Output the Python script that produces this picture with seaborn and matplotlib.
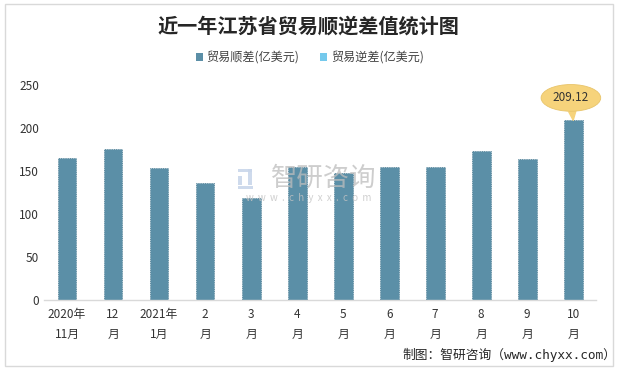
import matplotlib
matplotlib.use('Agg')
import matplotlib.pyplot as plt
import seaborn as sns
import pandas as pd
from matplotlib.patches import Patch, Rectangle

months = ['2020年\n11月', '12\n月', '2021年\n1月', '2\n月', '3\n月', '4\n月',
          '5\n月', '6\n月', '7\n月', '8\n月', '9\n月', '10\n月']
surplus = [164.7, 175.2, 153.1, 135.7, 118.6, 154.3,
           147.3, 154.3, 154.3, 173.3, 163.6, 209.12]
series_names = ['贸易顺差(亿美元)', '贸易逆差(亿美元)']
series_colors = ['#5B8FA7', '#75C9EC']

df = pd.DataFrame({'month': months, 'value': surplus})

sns.set_theme(style='white')
plt.rcParams['font.family'] = ['Noto Sans CJK SC', 'DejaVu Sans']

fig = plt.figure(figsize=(6.17, 3.70), dpi=100)
ax = fig.add_axes([0.0713, 0.189, 0.895, 0.581])

sns.barplot(data=df, x='month', y='value', color=series_colors[0],
            width=0.41, saturation=1, ax=ax,
            edgecolor='#4A7A90', linewidth=0.6, linestyle=':')

ax.set_ylim(0, 250)
ax.set_xlim(-0.5, len(months) - 0.5)
ax.set_yticks(range(0, 251, 50))
ax.set_xlabel('')
ax.set_ylabel('')
ax.tick_params(axis='both', length=0, labelsize=8.5, colors='#333333')
ax.tick_params(axis='x', pad=6)
for lbl in ax.get_xticklabels():
    lbl.set_linespacing(1.7)
for s in ['top', 'right', 'left']:
    ax.spines[s].set_visible(False)
ax.spines['bottom'].set_color('#D9D9D9')
ax.spines['bottom'].set_linewidth(1)

# callout on the last bar
last = len(surplus) - 1
ax.annotate(f'{surplus[last]:.2f}', xy=(last, surplus[last]),
            xytext=(last - 0.05, surplus[last] + 26),
            ha='center', va='center', fontsize=8.5, color='#333333',
            bbox=dict(boxstyle='ellipse,pad=0.25', fc='#F6D37B', ec='#E8C46A', lw=0.6),
            arrowprops=dict(arrowstyle='wedge,tail_width=0.6', fc='#F6D37B',
                            ec='#F6D37B', shrinkA=0, shrinkB=0))

# watermark
fig.text(0.524, 0.519, '智研咨询', ha='center', va='center', fontsize=19,
         color='#BDBDBD', alpha=0.75)
fig.text(0.5, 0.465, 'w  w  w  .  c  h  y  x  x  .  c  o  m', ha='center',
         va='center', fontsize=7, color='#C4C4C4', alpha=0.8)
for rx, ry, rw, rh in [(0.386, 0.535, 0.022, 0.008), (0.402, 0.500, 0.007, 0.043),
                       (0.386, 0.500, 0.007, 0.025), (0.386, 0.490, 0.024, 0.008)]:
    fig.patches.append(Rectangle((rx, ry), rw, rh, transform=fig.transFigure,
                                 fc='#C9D6EA', ec='none', alpha=0.9))

fig.suptitle('近一年江苏省贸易顺逆差值统计图', y=0.957, fontsize=14.5,
             fontweight='bold', color='#262626')

handles = [Patch(facecolor=c, edgecolor='none') for c in series_colors]
fig.legend(handles, series_names, loc='center', bbox_to_anchor=(0.502, 0.843),
           ncol=2, frameon=False, fontsize=8.7, handlelength=0.6,
           handleheight=0.6, handletextpad=0.3, columnspacing=1.7,
           labelcolor='#404040')

fig.text(0.999, 0.041, '制图：智研咨询（www.chyxx.com）', ha='right', va='center',
         fontsize=9.2, color='#262626',
         family=['DejaVu Sans Mono', 'Noto Sans CJK SC'])

fig.patches.append(Rectangle((0.008, 0.01), 0.985, 0.98, transform=fig.transFigure,
                             fill=False, ec='#D9D9D9', lw=1))

fig.savefig('out.png', dpi=100)
